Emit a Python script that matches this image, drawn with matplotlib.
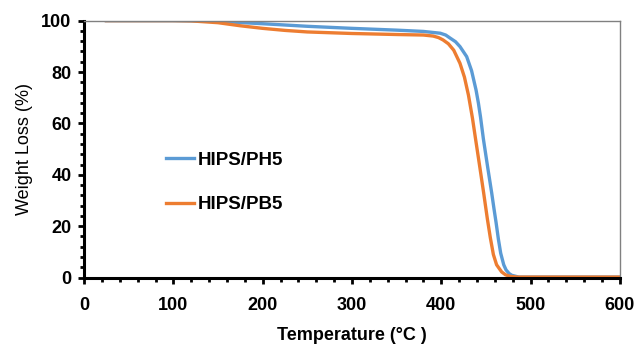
import matplotlib
matplotlib.use("Agg")
import matplotlib.pyplot as plt
from matplotlib.ticker import MultipleLocator

plt.rcParams['font.family'] = ['Liberation Sans', 'DejaVu Sans']

# TGA data
temp_ph5 = [25, 100, 130, 150, 200, 250, 300, 350, 380, 399, 405, 410, 416, 421, 428.5, 434,
            439, 441.6, 444, 447.2, 452, 456.5, 459, 461.4, 464, 466.6, 470, 472.6, 476,
            479, 487, 600]
wt_ph5 = [100, 100, 99.9, 99.7, 98.8, 97.8, 97.0, 96.3, 95.8, 95.1, 94.4, 93.2, 91.8, 89.9, 86.0, 80.5,
          73.0, 68.0, 62.5, 54.0, 43.0, 33.0, 27.0, 21.5, 15.0, 9.5, 5.0, 3.0, 1.6,
          0.9, 0.2, 0.2]

temp_pb5 = [25, 100, 120, 150, 175, 200, 225, 250, 300, 350, 380, 391, 397, 402, 408, 414,
            421, 426, 430.5, 435, 438.6, 443, 447.5, 451.6, 455, 458.4, 462, 467.7, 472,
            477, 485, 600]
wt_pb5 = [100, 100, 99.9, 99.2, 98.0, 97.0, 96.2, 95.6, 95.0, 94.6, 94.4, 94.0, 93.4, 92.5, 91.0, 88.5,
          83.4, 78.0, 71.0, 62.0, 53.6, 43.5, 33.0, 23.0, 15.5, 9.0, 5.0, 2.2, 1.1,
          0.5, 0.2, 0.2]

fig = plt.figure(figsize=(6.37, 3.44), dpi=100)
ax = fig.add_axes([0.132, 0.193, 0.841, 0.747])

ax.plot(temp_ph5, wt_ph5, color='#5B9BD5', lw=2.4, label='HIPS/PH5')
ax.plot(temp_pb5, wt_pb5, color='#ED7D31', lw=2.4, label='HIPS/PB5')

ax.set_xlim(0, 600)
ax.set_ylim(0, 100)
ax.xaxis.set_major_locator(MultipleLocator(100))
ax.xaxis.set_minor_locator(MultipleLocator(20))
ax.yaxis.set_major_locator(MultipleLocator(20))
ax.yaxis.set_minor_locator(MultipleLocator(4))

for s in ['left', 'bottom']:
    ax.spines[s].set_color('black')
    ax.spines[s].set_linewidth(2.2)
for s in ['top', 'right']:
    ax.spines[s].set_color('#808080')
    ax.spines[s].set_linewidth(1.0)

ax.tick_params(which='major', direction='out', length=4, width=2, labelsize=13)
ax.tick_params(which='minor', direction='out', length=3, width=2)
ax.tick_params(axis='x', which='major', pad=10)
ax.tick_params(axis='y', which='major', pad=5)
for lab in ax.get_xticklabels() + ax.get_yticklabels():
    lab.set_fontweight('bold')

ax.set_xlabel('Temperature (°C )', fontsize=13, fontweight='bold', labelpad=9)
ax.set_ylabel('Weight Loss (%)', fontsize=13, labelpad=6)

ax.legend(loc='center left', bbox_to_anchor=(0.136, 0.37), frameon=False, borderpad=0,
          prop={'weight': 'bold', 'size': 13.5}, handlelength=1.5, handletextpad=0.15,
          labelspacing=1.45)

fig.savefig('out.png', dpi=100)
